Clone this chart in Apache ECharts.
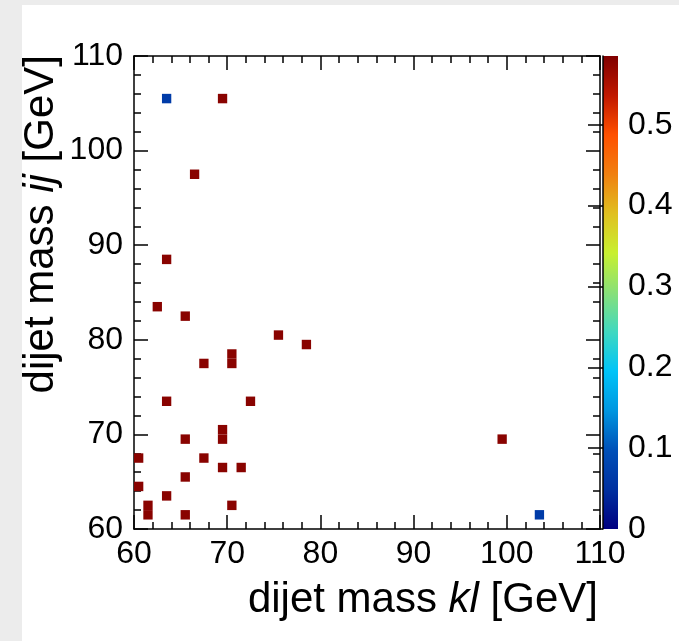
<!DOCTYPE html>
<html>
<head>
<meta charset="utf-8">
<script src="https://cdn.jsdelivr.net/npm/echarts@6/dist/echarts.min.js"></script>
<style>
  body { margin: 0; background: #ececec; }
  #main { position: absolute; left: 22px; top: 5px; width: 657px; height: 636px; background: #fff; }
</style>
</head>
<body>
<div id="main"></div>
<script>
// bin centres (1 GeV bins) and bin contents
const massKl = [63.5, 69.5, 66.5, 63.5, 62.5, 65.5, 75.5, 78.5, 67.5, 70.5, 70.5, 63.5, 72.5, 69.5, 69.5,
  65.5, 60.5, 67.5, 69.5, 71.5, 65.5, 60.5, 63.5, 61.5, 61.5, 70.5, 65.5, 99.5, 103.5]
const massIj = [105.5, 105.5, 97.5, 88.5, 83.5, 82.5, 80.5, 79.5, 77.5, 77.5, 78.5, 73.5, 73.5, 69.5, 70.5,
  69.5, 67.5, 67.5, 66.5, 66.5, 65.5, 64.5, 63.5, 61.5, 62.5, 62.5, 61.5, 69.5, 61.5]
const weights = [0.065, 0.578, 0.578, 0.578, 0.578, 0.578, 0.578, 0.578, 0.578, 0.578, 0.578, 0.578, 0.578, 0.578, 0.578,
  0.578, 0.578, 0.578, 0.578, 0.578, 0.578, 0.578, 0.578, 0.578, 0.578, 0.578, 0.578, 0.578, 0.065]

const zMax = 0.585
const axisTicks = [60, 70, 80, 90, 100, 110]
const palette = ['#000080', '#0030a0', '#0050b8', '#0096e0', '#00c4f8', '#40d8c0', '#88e078',
  '#c8f030', '#e0c020', '#f08010', '#ff5000', '#c01800', '#800000']

const bins = massKl.map((x, i) => [x, massIj[i], weights[i]])

const chart = echarts.init(document.getElementById('main'))
const font = 'Liberation Sans, Arial, sans-serif'

function frameAxis(extra) {
  return Object.assign({
    type: 'value',
    min: axisTicks[0],
    max: axisTicks[axisTicks.length - 1],
    interval: 10,
    gridIndex: 0,
    axisLine: { show: true, onZero: false, lineStyle: { color: '#000', width: 1.5 } },
    axisTick: { show: true, inside: true, length: 14, lineStyle: { color: '#000', width: 1.5 } },
    minorTick: { show: true, splitNumber: 5, length: 7, lineStyle: { color: '#000', width: 1.5 } },
    splitLine: { show: false },
    axisLabel: { show: false }
  }, extra)
}

const tickLabel = { show: true, color: '#000', fontSize: 32, fontFamily: font }

const option = {
  animation: false,
  grid: [
    { left: 112, top: 51, width: 466, height: 473, outerBoundsMode: 'none' },
    { left: 581, top: 51, width: 15, height: 473, outerBoundsMode: 'none' }
  ],
  xAxis: [
    frameAxis({ position: 'bottom', axisLabel: Object.assign({ margin: 9 }, tickLabel) }),
    frameAxis({ position: 'top' }),
    { type: 'value', gridIndex: 1, min: 0, max: 1, show: false }
  ],
  yAxis: [
    frameAxis({ position: 'left', axisLabel: Object.assign({ margin: 11 }, tickLabel) }),
    frameAxis({ position: 'right' }),
    {
      type: 'value', gridIndex: 1, position: 'right', min: 0, max: zMax, interval: 0.1,
      axisLine: { show: true, lineStyle: { color: '#000', width: 1.5 } },
      axisTick: { show: true, inside: true, length: 15, lineStyle: { color: '#000', width: 1.5 } },
      splitLine: { show: false },
      axisLabel: Object.assign({ margin: 10, showMaxLabel: false, formatter: v => String(+v.toFixed(1)) }, tickLabel)
    }
  ],
  visualMap: {
    show: false,
    type: 'continuous',
    seriesIndex: 0,
    dimension: 2,
    min: 0,
    max: zMax,
    inRange: { color: palette }
  },
  graphic: [
    {
      type: 'text', x: 19, y: 50, rotation: Math.PI / 2,
      style: {
        text: 'dijet mass {i|ij} [GeV]', align: 'right', verticalAlign: 'middle',
        fontSize: 42, fontFamily: font, fill: '#000',
        rich: { i: { fontSize: 42, fontFamily: font, fontStyle: 'italic', fill: '#000' } }
      }
    },
    {
      type: 'text', x: 576, y: 595,
      style: {
        text: 'dijet mass {i|kl} [GeV]', align: 'right', verticalAlign: 'middle',
        fontSize: 42, fontFamily: font, fill: '#000',
        rich: { i: { fontSize: 42, fontFamily: font, fontStyle: 'italic', fill: '#000' } }
      }
    }
  ],
  series: [
    {
      type: 'custom',
      xAxisIndex: 0,
      yAxisIndex: 0,
      data: bins,
      renderItem(params, api) {
        const p0 = api.coord([api.value(0) - 0.5, api.value(1) + 0.5])
        const p1 = api.coord([api.value(0) + 0.5, api.value(1) - 0.5])
        return {
          type: 'rect',
          shape: { x: p0[0], y: p0[1], width: p1[0] - p0[0], height: p1[1] - p0[1] },
          style: { fill: api.visual('color') }
        }
      }
    },
    {
      // palette bar, drawn under its own ticks
      type: 'custom',
      xAxisIndex: 2,
      yAxisIndex: 2,
      data: [[0, zMax]],
      z: -1,
      renderItem(params, api) {
        const p0 = api.coord([0, api.value(1)])
        const p1 = api.coord([1, 0])
        const stops = palette.map((c, i) => ({ offset: i / (palette.length - 1), color: c }))
        return {
          type: 'rect',
          shape: { x: p0[0], y: p0[1], width: p1[0] - p0[0], height: p1[1] - p0[1] },
          style: { fill: new echarts.graphic.LinearGradient(0, 1, 0, 0, stops) }
        }
      }
    }
  ]
}

chart.setOption(option)
</script>
</body>
</html>
